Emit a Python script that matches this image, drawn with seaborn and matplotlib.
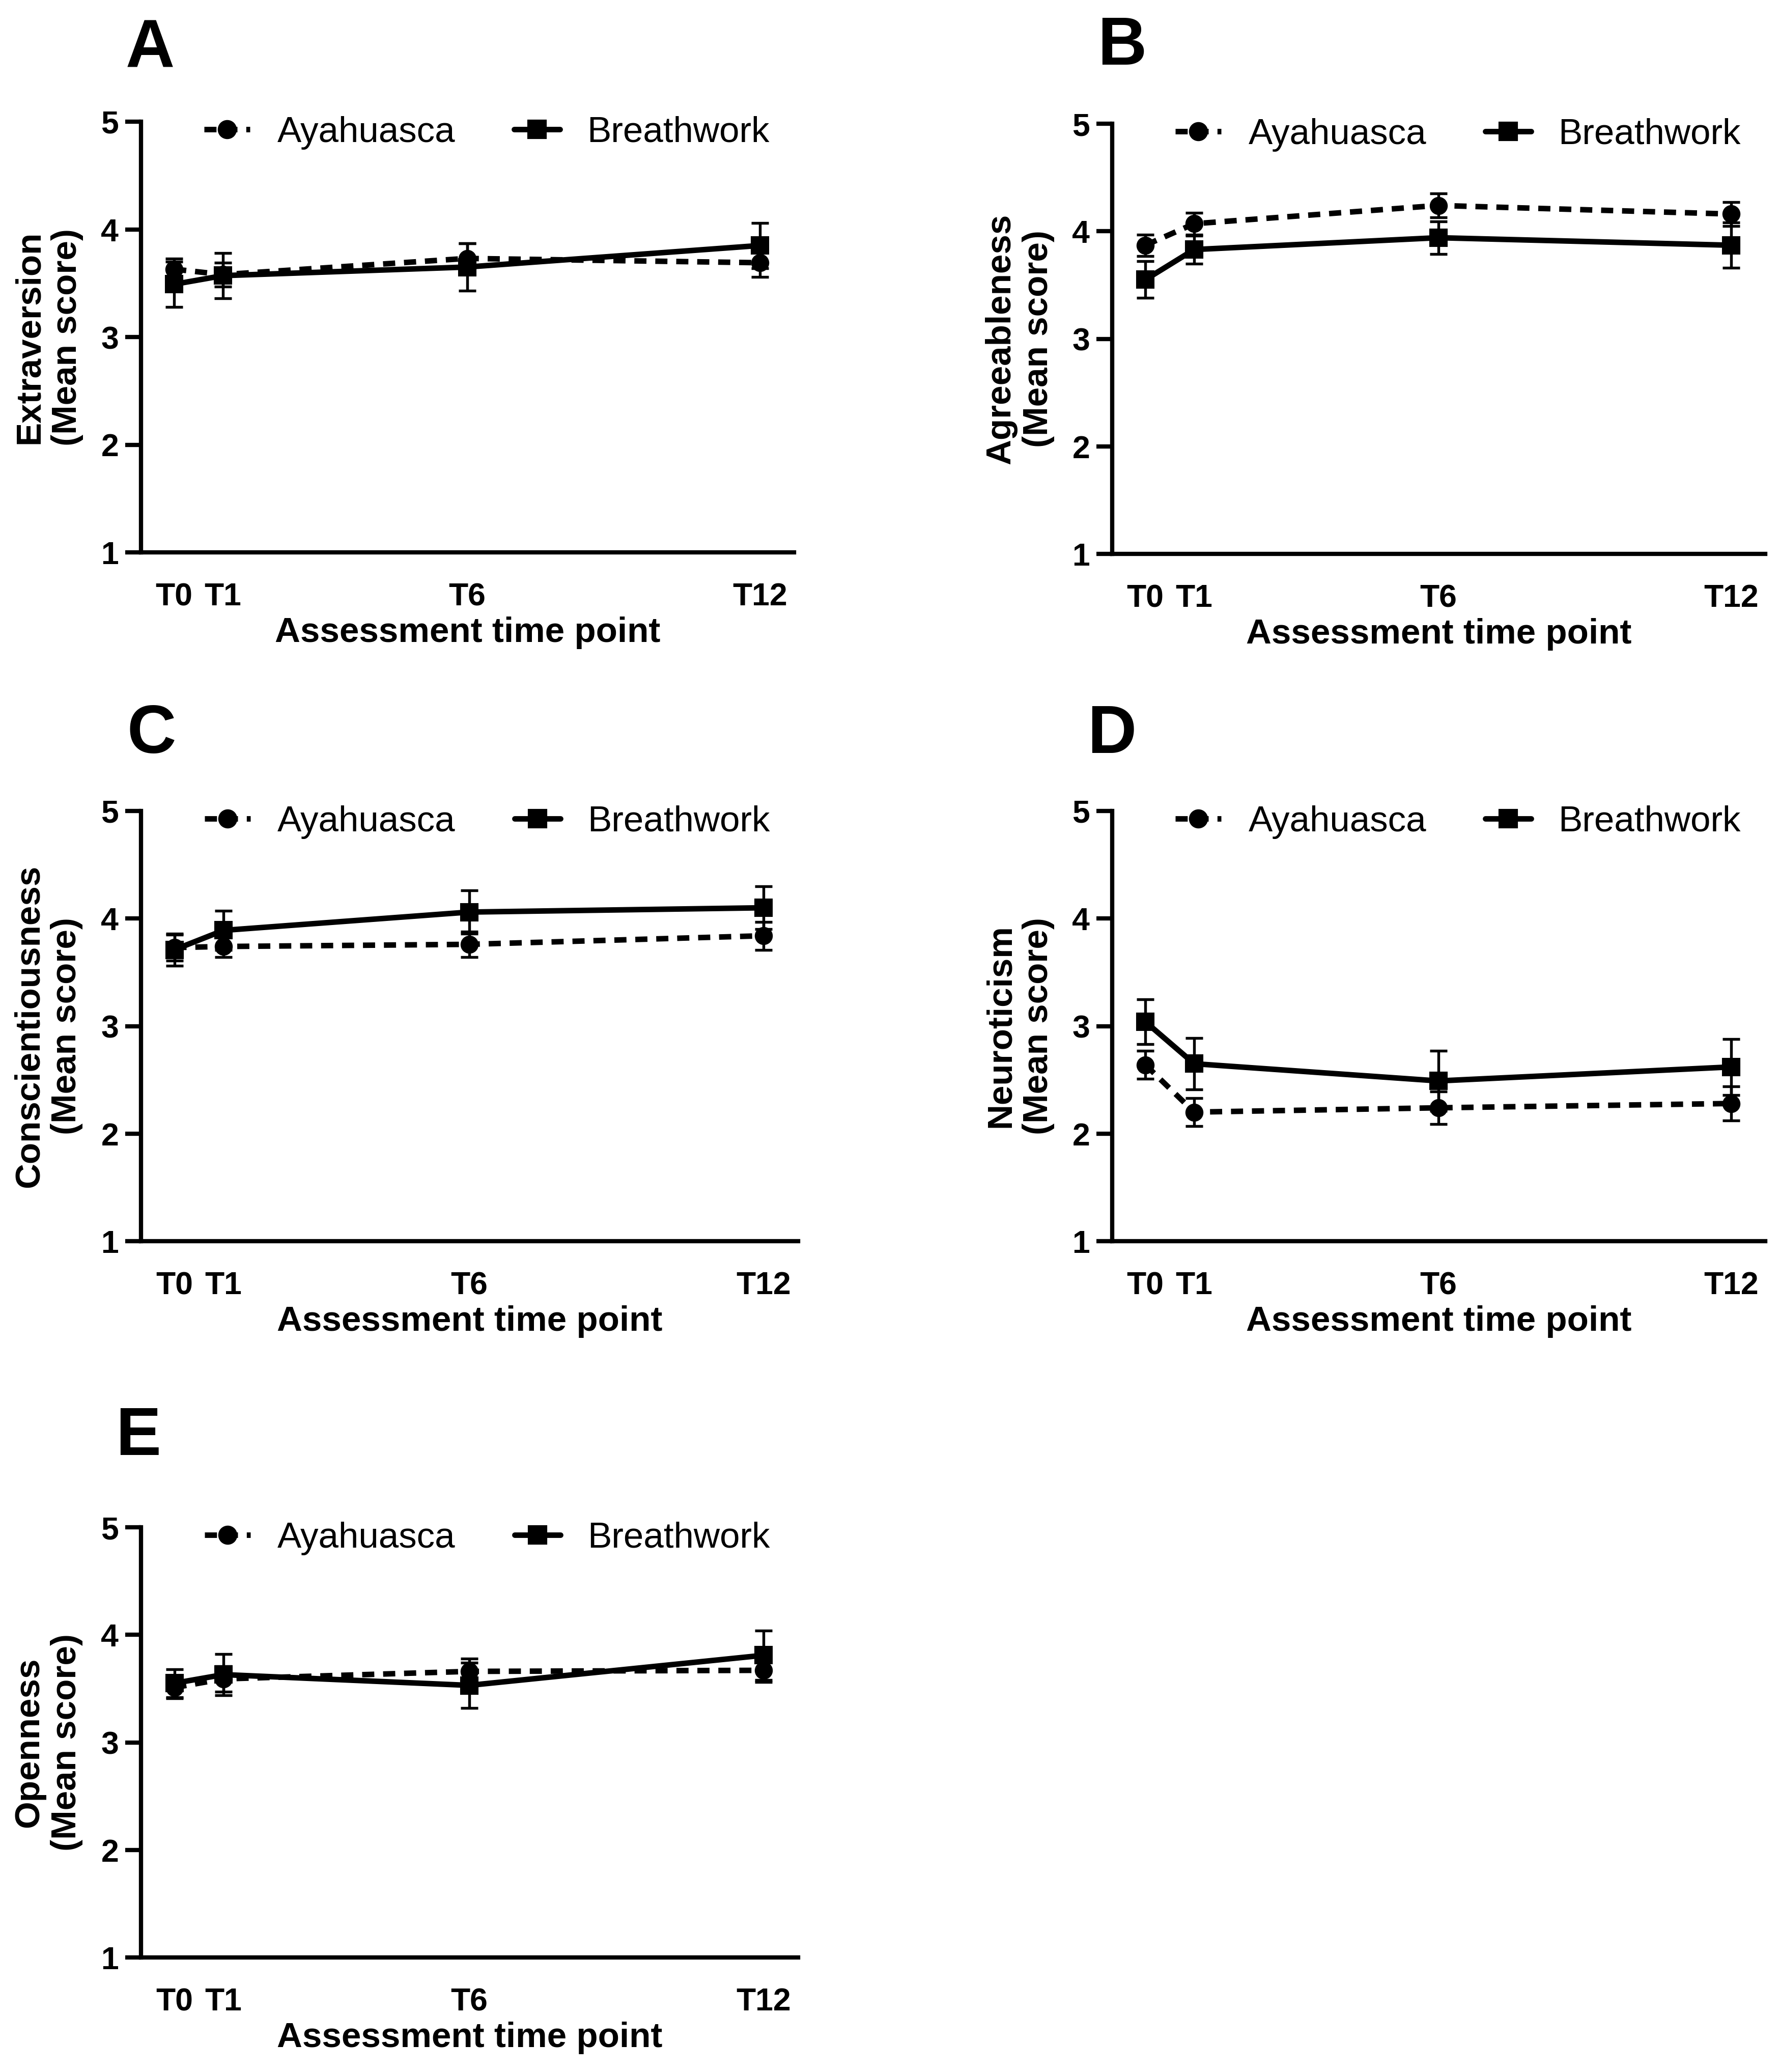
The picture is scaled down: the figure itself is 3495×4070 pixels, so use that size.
import numpy as np
import pandas as pd
import matplotlib
matplotlib.use("Agg")
import matplotlib.pyplot as plt
from matplotlib.lines import Line2D
import seaborn as sns

# time axis
months = [0, 1, 6, 12]
tick_labels = ["T0", "T1", "T6", "T12"]
groups = ["Ayahuasca", "Breathwork"]

# mean scores and SEM
extra_aya = [3.63, 3.58, 3.73, 3.69]
extra_aya_sem = [0.10, 0.11, 0.14, 0.13]
extra_bw = [3.49, 3.57, 3.65, 3.85]
extra_bw_sem = [0.21, 0.21, 0.22, 0.21]

agree_aya = [3.87, 4.07, 4.24, 4.16]
agree_aya_sem = [0.10, 0.10, 0.11, 0.11]
agree_bw = [3.55, 3.83, 3.94, 3.87]
agree_bw_sem = [0.17, 0.13, 0.15, 0.21]

consc_aya = [3.73, 3.74, 3.76, 3.84]
consc_aya_sem = [0.12, 0.10, 0.12, 0.13]
consc_bw = [3.71, 3.89, 4.06, 4.10]
consc_bw_sem = [0.15, 0.18, 0.20, 0.20]

neuro_aya = [2.64, 2.20, 2.24, 2.28]
neuro_aya_sem = [0.13, 0.13, 0.15, 0.16]
neuro_bw = [3.04, 2.65, 2.49, 2.62]
neuro_bw_sem = [0.21, 0.24, 0.28, 0.26]

open_aya = [3.51, 3.59, 3.66, 3.67]
open_aya_sem = [0.10, 0.12, 0.12, 0.11]
open_bw = [3.55, 3.63, 3.53, 3.81]
open_bw_sem = [0.13, 0.19, 0.21, 0.23]

traits = ["Extraversion", "Agreeableness", "Conscientiousness", "Neuroticism", "Openness"]
panel_letters = ["A", "B", "C", "D", "E"]


def make_df(aya, aya_sem, bw, bw_sem):
    rows = []
    for g, m, s in [("Ayahuasca", aya, aya_sem), ("Breathwork", bw, bw_sem)]:
        for t, mv, sv in zip(months, m, s):
            rows.append({"month": t, "group": g, "mean": mv, "sem": sv})
    return pd.DataFrame(rows)


panel_data = [
    make_df(extra_aya, extra_aya_sem, extra_bw, extra_bw_sem),
    make_df(agree_aya, agree_aya_sem, agree_bw, agree_bw_sem),
    make_df(consc_aya, consc_aya_sem, consc_bw, consc_bw_sem),
    make_df(neuro_aya, neuro_aya_sem, neuro_bw, neuro_bw_sem),
    make_df(open_aya, open_aya_sem, open_bw, open_bw_sem),
]

sns.set_style("ticks")
plt.rcParams["font.family"] = ["Liberation Sans", "DejaVu Sans"]
for key in ["text.color", "axes.labelcolor", "xtick.color", "ytick.color", "axes.edgecolor"]:
    plt.rcParams[key] = "black"

W, H = 3495, 4070
fig = plt.figure(figsize=(W / 300, H / 300), dpi=300)

# axes boxes in pixels: left, right, top, bottom
boxes = [
    (277, 1560, 239, 1085),
    (2185, 3468, 243, 1088),
    (277, 1568, 1593, 2438),
    (2185, 3468, 1593, 2438),
    (277, 1568, 3000, 3845),
]
letter_pos = [(247, 133), (2156, 127), (249, 1479), (2136, 1479), (227, 2858)]

LW = 2.6
dash = (2.2, 1.6)
markers = {"Ayahuasca": "o", "Breathwork": "s"}
dashes = {"Ayahuasca": dash, "Breathwork": ""}
palette = {"Ayahuasca": "black", "Breathwork": "black"}

for i, df in enumerate(panel_data):
    l, r, t, b = boxes[i]
    ax = fig.add_axes([l / W, 1 - b / H, (r - l) / W, (b - t) / H])

    for g in groups:
        sub = df[df.group == g]
        ax.errorbar(sub["month"], sub["mean"], yerr=sub["sem"], fmt="none",
                    ecolor="black", elinewidth=1.3, capsize=4, capthick=1.3, zorder=2)

    sns.lineplot(data=df, x="month", y="mean", hue="group", style="group",
                 markers=markers, dashes=dashes, palette=palette, ax=ax,
                 legend=False, linewidth=LW, markersize=8,
                 markeredgecolor="black", markeredgewidth=0.5, zorder=3)

    ax.set_xlim(-0.68, 12.7)
    ax.set_ylim(1, 5)
    ax.set_xticks(months)
    ax.set_xticklabels(tick_labels, fontsize=15, fontweight="bold")
    ax.set_yticks([1, 2, 3, 4, 5])
    ax.set_yticklabels(["1", "2", "3", "4", "5"], fontsize=15, fontweight="bold")
    ax.tick_params(axis="x", length=0, pad=14)
    ax.tick_params(axis="y", length=7.5, width=2, pad=3, color="black")
    for side in ["top", "right"]:
        ax.spines[side].set_visible(False)
    for side in ["left", "bottom"]:
        ax.spines[side].set_linewidth(2)
        ax.spines[side].set_color("black")

    ax.set_xlabel("Assessment time point", fontsize=16.6, fontweight="bold", labelpad=2)
    ax.set_ylabel(f"{traits[i]}\n(Mean score)", fontsize=16.6, fontweight="bold")
    ax.yaxis.set_label_coords(-0.088, 0.5)

    handles = [
        Line2D([], [], color="black", lw=LW, dashes=dash, marker="o", markersize=8),
        Line2D([], [], color="black", lw=LW, marker="s", markersize=8),
    ]
    ax.legend(handles, groups, loc="center left", bbox_to_anchor=(0.097, 0.974),
              ncol=2, frameon=False, fontsize=17, handlelength=1.27,
              handletextpad=0.75, columnspacing=1.64, borderpad=0, borderaxespad=0)

    lx, ly = letter_pos[i]
    fig.text(lx / W, 1 - ly / H, panel_letters[i], fontsize=32, fontweight="bold",
             ha="left", va="baseline", color="black")

fig.savefig("out.png", dpi=300, facecolor="white")
